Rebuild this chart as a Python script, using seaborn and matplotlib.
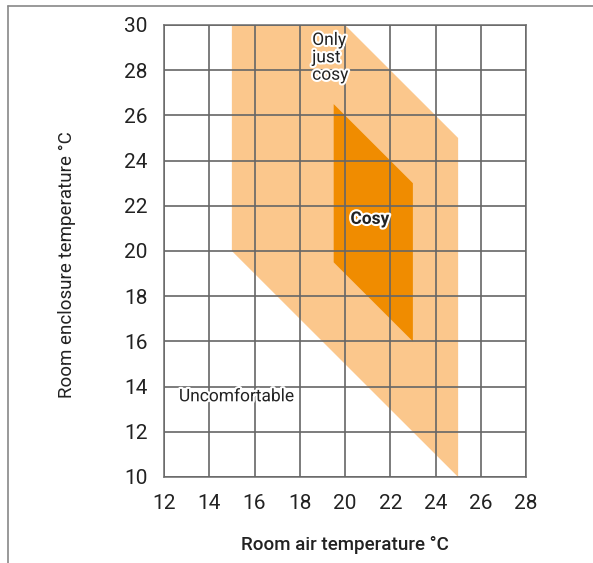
import matplotlib
matplotlib.use("Agg")
import matplotlib.pyplot as plt
import matplotlib.patheffects as pe
import seaborn as sns
from matplotlib.patches import Polygon

# Zone outlines (room air temperature, enclosure temperature)
just_cosy_x = [15, 20, 25, 25, 15]
just_cosy_y = [30, 30, 25, 10, 20]
cosy_x = [19.5, 23, 23, 19.5]
cosy_y = [26.5, 23, 16, 19.5]

x_ticks = [12, 14, 16, 18, 20, 22, 24, 26, 28]
y_ticks = [10, 12, 14, 16, 18, 20, 22, 24, 26, 28, 30]

sns.set_theme(style="white")
plt.rcParams['font.family'] = ['Roboto', 'DejaVu Sans']

fig = plt.figure(figsize=(5.93, 5.63), dpi=100, facecolor='white')
ax = fig.add_axes([164 / 593, 1 - 477 / 563, 362 / 593, 452 / 563])

ax.add_patch(Polygon(list(zip(just_cosy_x, just_cosy_y)), closed=True,
                     facecolor='#fbc78c', edgecolor='none', zorder=1))
ax.add_patch(Polygon(list(zip(cosy_x, cosy_y)), closed=True,
                     facecolor='#f08c00', edgecolor='none', zorder=2))

ax.set_xlim(12, 28)
ax.set_ylim(10, 30)
ax.set_xticks(x_ticks)
ax.set_yticks(y_ticks)
ax.grid(True, color='#666666', linewidth=1.2, zorder=3)
ax.set_axisbelow(False)
for s in ax.spines.values():
    s.set_color('#777777')
    s.set_linewidth(1.2)
ax.tick_params(length=0, labelsize=15, pad=12, colors='#222222')

ax.set_xlabel('Room air temperature °C', fontsize=13.5, fontweight='medium', color='#222222')
ax.set_ylabel('Room enclosure temperature °C', fontsize=13.5, color='#222222')
ax.xaxis.set_label_coords(0.5, -0.150)
ax.yaxis.set_label_coords(-0.268, 0.469)
ax.xaxis.label.set_va('center')
ax.yaxis.label.set_va('center')

halo = [pe.withStroke(linewidth=3, foreground='white')]
ax.text(18.55, 29.65, 'Only\njust\ncosy', fontsize=12.5, va='top', ha='left',
        linespacing=1.2, color='#222222', path_effects=halo, zorder=5)
ax.text(21.1, 21.4, 'Cosy', fontsize=12.5, fontweight='bold', ha='center', va='center',
        color='#222222', path_effects=halo, zorder=5)
ax.text(12.66, 13.55, 'Uncomfortable', fontsize=12.5, ha='left', va='center',
        color='#222222', path_effects=halo, zorder=5)

# outer frame (left and top edges only)
fig.add_artist(plt.Line2D([8 / 593, 8 / 593], [0, 1 - 6 / 563], transform=fig.transFigure,
                          color='#888888', linewidth=1.2))
fig.add_artist(plt.Line2D([8 / 593, 1], [1 - 6 / 563, 1 - 6 / 563], transform=fig.transFigure,
                          color='#888888', linewidth=1.2))

fig.savefig('out.png', dpi=100, facecolor='white')
